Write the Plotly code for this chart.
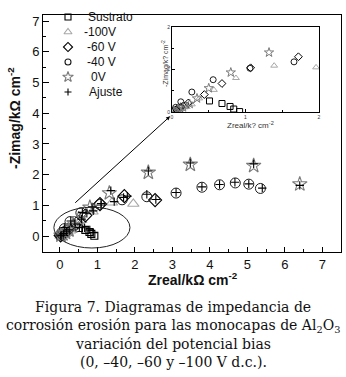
import plotly.graph_objects as go

# ---------------- data ----------------
sustrato_x = [0.01, 0.03, 0.06, 0.11, 0.18, 0.51, 0.68, 0.79, 0.84, 0.92]
sustrato_y = [0.01, 0.02, 0.05, 0.09, 0.15, 0.26, 0.20, 0.13, 0.07, 0.01]

v100_x = [0.02, 0.05, 0.09, 0.14, 0.20, 0.27, 0.37, 0.57, 0.87, 1.39, 1.96]
v100_y = [0.01, 0.03, 0.05, 0.08, 0.12, 0.18, 0.32, 0.52, 0.80, 1.09, 1.05]

v60_x = [0.02, 0.06, 0.12, 0.22, 0.44, 0.68, 1.07, 1.72, 2.54]
v60_y = [0.02, 0.06, 0.12, 0.21, 0.41, 0.67, 1.04, 1.30, 1.17]

v40_x = [0.02, 0.05, 0.12, 0.27, 0.56, 1.06, 1.66, 2.32, 3.10, 3.79, 4.26, 4.68, 5.04, 5.35]
v40_y = [0.03, 0.11, 0.24, 0.47, 0.76, 1.03, 1.18, 1.28, 1.40, 1.59, 1.67, 1.73, 1.69, 1.55]

v0_x = [0.03, 0.08, 0.15, 0.24, 0.34, 0.50, 0.80, 1.32, 2.36, 3.48, 5.17, 6.40]
v0_y = [0.02, 0.06, 0.11, 0.19, 0.32, 0.56, 0.93, 1.40, 2.07, 2.33, 2.29, 1.69]

ajuste_x = [2.36, 3.48, 5.17, 6.40, 1.36, 3.79, 4.26, 4.67, 5.04, 5.40, 3.10, 2.32,
            1.70, 1.80, 1.10, 1.10, 2.56, 1.45, 0.86, 0.89, 0.60, 0.72, 0.58, 0.40,
            0.29, 0.13, 0.80, 0.89, 0.66, 0.52, 0.25, 0.18, 0.10, 0.05, 0.02]
ajuste_y = [2.12, 2.38, 2.35, 1.65, 1.48, 1.60, 1.68, 1.75, 1.70, 1.56, 1.42, 1.36,
            1.26, 1.30, 1.06, 1.01, 1.19, 1.12, 0.95, 0.82, 0.77, 0.74, 0.55, 0.39,
            0.49, 0.28, 0.20, 0.11, 0.27, 0.28, 0.20, 0.14, 0.08, 0.03, 0.01]

legend_labels = ["Sustrato", "-100V", "-60 V", "-40 V", "0V", "Ajuste"]
main_ticks = [0, 1, 2, 3, 4, 5, 6, 7]
inset_ticks = [0, 1, 2]

x_title = "Zreal/kΩ cm<sup>-2</sup>"
y_title = "-Zimag/kΩ cm<sup>-2</sup>"
inset_x_title = "Zreal/k? cm<sup>-2</sup>"
inset_y_title = "-Zimag/k? cm<sup>-2</sup>"
caption = ["Figura 7. Diagramas de impedancia de",
           "corrosión erosión para las monocapas de Al<sub>2</sub>O<sub>3</sub>",
           "variación del potencial bias",
           "(0, –40, –60 y –100 V d.c.)."]

# ---------------- styles ----------------
W, H = 346, 377
L, R, T, B = 43, 341, 15, 252  # plot area in pixels

def px(x):
    return (x - L) / (R - L)

def py(y):
    return (B - y) / (B - T)

series = [
    (sustrato_x, sustrato_y, "square-open", "#000000", 7, 6, 1.1),
    (v100_x, v100_y, "triangle-up-open", "#a8a8a8", 10, 6, 1.1),
    (v60_x, v60_y, "diamond-open", "#000000", 10, 6, 1.1),
    (v40_x, v40_y, "circle-open", "#1a1a1a", 10, 6, 1.0),
    (v0_x, v0_y, "star-open", "#7a7a7a", 11, 7, 1.1),
]

fig = go.Figure()

for sx, sy, sym, col, sz, szi, lw in series:
    fig.add_trace(go.Scatter(x=sx, y=sy, mode="markers", xaxis="x", yaxis="y",
                             marker=dict(symbol=sym, size=sz, color=col,
                                         line=dict(width=lw, color=col)),
                             showlegend=False))
fig.add_trace(go.Scatter(x=ajuste_x, y=ajuste_y, mode="markers", xaxis="x", yaxis="y",
                         marker=dict(symbol="cross-thin-open", size=6, color="#000",
                                     line=dict(width=1.1, color="#000")),
                         showlegend=False))

# inset (same data, zoomed)
for sx, sy, sym, col, sz, szi, lw in series:
    fig.add_trace(go.Scatter(x=sx, y=sy, mode="markers", xaxis="x2", yaxis="y2",
                             marker=dict(symbol=sym, size=szi, color=col,
                                         line=dict(width=1.0, color=col)),
                             showlegend=False))

# legend (drawn on pixel-overlay axis)
leg_rows = [17, 32, 47, 62, 77, 92]
leg_text_x = [86, 82, 85, 85, 89, 87]
leg_styles = [(s[2], s[3]) for s in series] + [("cross-thin-open", "#000")]
leg_sizes = [6, 7, 7, 6, 8, 5]
for i, (sym, col) in enumerate(leg_styles):
    fig.add_trace(go.Scatter(x=[68], y=[leg_rows[i]], mode="markers", xaxis="x3", yaxis="y3",
                             marker=dict(symbol=sym, size=leg_sizes[i], color=col,
                                         line=dict(width=1.1, color=col)),
                             showlegend=False, cliponaxis=False))

ann = []
for i, lab in enumerate(legend_labels):
    ann.append(dict(x=px(leg_text_x[i]), y=py(leg_rows[i]), xref="paper", yref="paper",
                    text=lab, showarrow=False, xanchor="left", yanchor="middle",
                    font=dict(family="Liberation Sans, Arial", size=12, color="#111")))

# axis titles
ann.append(dict(x=px(193), y=py(278.5), xref="paper", yref="paper", text=x_title,
                showarrow=False, xanchor="center", yanchor="middle",
                font=dict(family="Liberation Sans, Arial", size=14, color="#111", weight="bold")))
ann.append(dict(x=px(14), y=py(118), xref="paper", yref="paper", text=y_title,
                showarrow=False, xanchor="center", yanchor="middle", textangle=-90,
                font=dict(family="Liberation Sans, Arial", size=14, color="#111", weight="bold")))
ann.append(dict(x=px(250), y=py(125), xref="paper", yref="paper", text=inset_x_title,
                showarrow=False, xanchor="center", yanchor="middle",
                font=dict(family="Liberation Sans, Arial", size=8, color="#333")))
ann.append(dict(x=px(165), y=py(64), xref="paper", yref="paper", text=inset_y_title,
                showarrow=False, xanchor="center", yanchor="middle", textangle=-90,
                font=dict(family="Liberation Sans, Arial", size=7, color="#333")))

# leader line from ellipse to inset
ann.append(dict(x=2.94, y=3.9, xref="x", yref="y", ax=0.37, ay=1.04, axref="x", ayref="y",
                showarrow=True, arrowhead=2, arrowsize=0.8, arrowwidth=1, arrowcolor="#000",
                text=""))

# caption
cap_rows = [307, 326, 344, 362]
for i, line in enumerate(caption):
    ann.append(dict(x=px(173), y=py(cap_rows[i]), xref="paper", yref="paper", text=line,
                    showarrow=False, xanchor="center", yanchor="middle",
                    font=dict(family="DejaVu Serif", size=14, color="#111")))

shapes = [dict(type="circle", xref="x", yref="y", x0=-0.16, x1=1.87, y0=-0.39, y1=0.94,
               line=dict(color="#222", width=1))]

axis_common = dict(showgrid=False, zeroline=False, showline=True, linecolor="#000",
                   linewidth=1, mirror=True, ticks="inside", tickcolor="#000",
                   tickwidth=1, automargin=False)

fig.update_layout(
    width=W, height=H,
    margin=dict(l=L, r=W - R, t=T, b=H - B, pad=0),
    paper_bgcolor="white", plot_bgcolor="white",
    showlegend=False,
    xaxis=dict(**axis_common, domain=[0, 1], range=[-0.45, 7.5], tickvals=main_ticks,
               ticklen=5, tickfont=dict(family="Liberation Sans, Arial", size=13, color="#111"),
               minor=dict(dtick=0.5, tick0=0, ticks="inside", ticklen=3, tickcolor="#000")),
    yaxis=dict(**axis_common, domain=[0, 1], range=[-0.52, 7.2], tickvals=main_ticks,
               ticklen=6, tickfont=dict(family="Liberation Sans, Arial", size=13, color="#111"),
               minor=dict(dtick=0.5, tick0=0, ticks="inside", ticklen=3, tickcolor="#000")),
    xaxis2=dict(**axis_common, domain=[px(172), px(319)], anchor="y2", range=[0, 2],
                tickvals=inset_ticks, ticklen=3,
                tickfont=dict(family="Liberation Sans, Arial", size=5, color="#333"),
                minor=dict(dtick=0.5, tick0=0, ticks="inside", ticklen=2, tickcolor="#000")),
    yaxis2=dict(**axis_common, domain=[py(112), py(27)], anchor="x2", range=[0, 2],
                tickvals=inset_ticks, ticklen=3,
                tickfont=dict(family="Liberation Sans, Arial", size=5, color="#333"),
                minor=dict(dtick=0.5, tick0=0, ticks="inside", ticklen=2, tickcolor="#000")),
    xaxis3=dict(domain=[0, 1], range=[L, R], visible=False, anchor="y3", overlaying="x"),
    yaxis3=dict(domain=[0, 1], range=[B, T], visible=False, anchor="x3", overlaying="y"),
    annotations=ann,
    shapes=shapes,
)

fig.write_html("out.html", config={"displayModeBar": False},
               post_script="document.body.style.margin='0';document.body.style.overflow='hidden';")
